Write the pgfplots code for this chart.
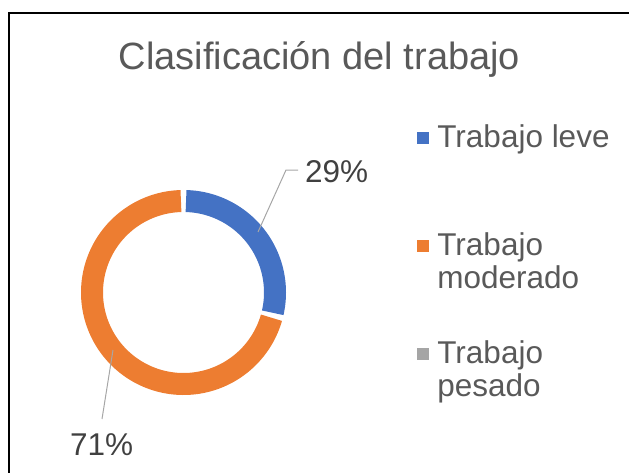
\documentclass[border=0pt]{standalone}
\usepackage{fontspec}
\setmainfont{Liberation Sans}
\usepackage{pgfplots}
\usepackage{pgfplotstable}
\pgfplotsset{compat=1.18}

\definecolor{cblue}{HTML}{4472C4}
\definecolor{corange}{HTML}{ED7D31}
\definecolor{cgray}{HTML}{A5A5A5}
\definecolor{ctitle}{HTML}{595959}
\definecolor{clabel}{HTML}{404040}
\definecolor{cleader}{HTML}{A6A6A6}

% share of each class, in percent
\pgfplotstableread{
label    value
leve     29
moderado 71
pesado   0
}\donutdata

\pgfplotsset{
  sqlegend/.style={legend image code/.code={\fill[##1] (0pt,-5.5pt) rectangle (11pt,5.5pt);}},
}
% two-line legend cell; zero depth, centre 10pt above the first baseline
\newcommand{\entry}[2]{\raisebox{0pt}[\height][0pt]{\begin{tabular}[b]{@{}l@{}}\rule{0pt}{53pt}#1\\#2\mbox{}\end{tabular}}}

\begin{document}
\begin{tikzpicture}
\pgfplotstablegetelem{0}{value}\of\donutdata \let\vleve\pgfplotsretval
\pgfplotstablegetelem{1}{value}\of\donutdata \let\vmod\pgfplotsretval
\begin{axis}[name=ax, at={(0,0)}, anchor=south west,
  width=629pt, height=472pt, scale only axis,
  xmin=0, xmax=629, ymin=0, ymax=472, y dir=reverse,
  hide axis, clip=false, sqlegend,
  legend cell align=left,
  legend style={draw=none, fill=none, inner sep=0pt, outer sep=0pt,
    nodes={inner sep=0pt, outer sep=0pt}, row sep=20.5pt, column sep=9pt,
    text=ctitle, font=\fontsize{31.5}{33}\selectfont,
    at={(axis cs:417,94)}, anchor=north west}]

% chart frame
\draw[black, line width=2.5pt] (axis cs:9,13) rectangle (axis cs:700,540);

% title
\node[anchor=base, text=ctitle, font=\fontsize{38}{44}\selectfont]
  at (axis cs:319.5,69.5) {Clasificación del trabajo};

% ring segments (centre 183.5/292.5, mid radius 91.5)
\addplot[draw=cblue, line width=22pt, samples=80, variable=\t, forget plot,
  domain={90-3.6*\vleve+1.6}:{88.4}]
  ({183.5+91.5*cos(\t)},{292.5-91.5*sin(\t)});
\addplot[draw=corange, line width=22pt, samples=160, variable=\t, forget plot,
  domain={90-3.6*\vleve-3.6*\vmod+1.6}:{90-3.6*\vleve-1.6}]
  ({183.5+91.5*cos(\t)},{292.5-91.5*sin(\t)});

% leader lines and data labels
\addplot[draw=cleader, line width=1pt, forget plot] coordinates {(298,170) (286,170) (258,232)};
\addplot[draw=cleader, line width=1pt, forget plot] coordinates {(102,419) (113,350)};
\node[anchor=base west, text=clabel, font=\fontsize{31.5}{33}\selectfont, inner sep=0pt]
  at (axis cs:305,182) {29\%};
\node[anchor=base west, text=clabel, font=\fontsize{31.5}{33}\selectfont, inner sep=0pt]
  at (axis cs:70,455) {71\%};

\addlegendimage{cblue}
\addlegendentry{\entry{Trabajo leve}{}}
\addlegendimage{corange}
\addlegendentry{\entry{Trabajo}{moderado}}
\addlegendimage{cgray}
\addlegendentry{\entry{Trabajo}{pesado}}
\end{axis}
\pgfresetboundingbox
\path (ax.south west) rectangle (ax.north east);
\end{tikzpicture}
\end{document}
